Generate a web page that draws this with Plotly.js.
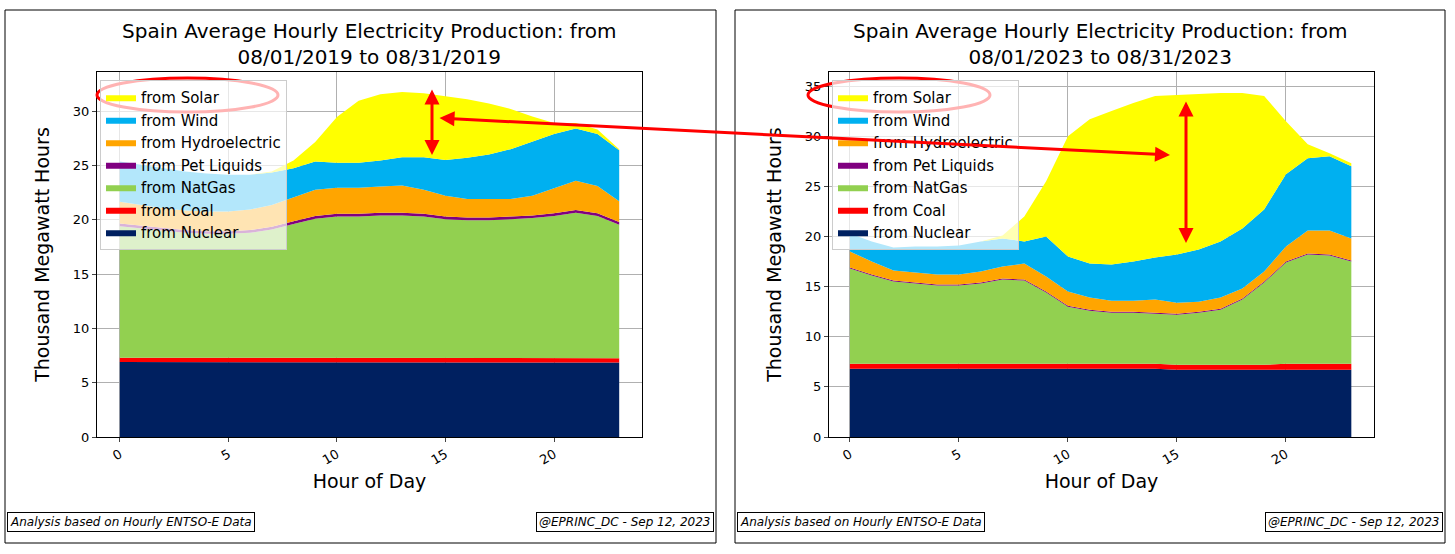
<!DOCTYPE html>
<html><head><meta charset="utf-8">
<script src="https://cdn.plot.ly/plotly-3.0.1.min.js"></script>
<style>body{margin:0;background:#fff}</style>
</head><body>
<div id="chart" style="width:1455px;height:554px"></div>
<script>
const hours = [...Array(24).keys()];
const seriesNames = ['from Nuclear', 'from Coal', 'from NatGas', 'from Pet Liquids', 'from Hydroelectric', 'from Wind', 'from Solar'];
const seriesColors = ['#002060', '#ff0000', '#92d050', '#800080', '#ffa500', '#00b0f0', '#ffff00'];

// 2019 values, thousand MWh
const nuclear2019 = [6.9,6.9,6.9,6.9,6.9,6.9,6.9,6.9,6.9,6.9,6.9,6.9,6.9,6.9,6.9,6.85,6.85,6.85,6.85,6.85,6.85,6.85,6.85,6.85];
const coal2019 = [0.4,0.4,0.4,0.4,0.4,0.4,0.4,0.4,0.4,0.4,0.4,0.4,0.4,0.4,0.4,0.4,0.4,0.4,0.4,0.4,0.4,0.4,0.4,0.4];
const natgas2019 = [12.1,11.9,11.7,11.5,11.4,11.4,11.5,11.8,12.3,12.8,13.0,13.0,13.1,13.1,13.0,12.8,12.7,12.7,12.8,12.9,13.1,13.4,13.1,12.3];
const petliq2019 = [0.25,0.25,0.25,0.25,0.25,0.25,0.25,0.25,0.25,0.25,0.25,0.25,0.25,0.25,0.25,0.25,0.25,0.25,0.25,0.25,0.25,0.25,0.25,0.25];
const hydro2019 = [2.0,1.9,1.8,1.8,1.8,1.8,1.9,2.0,2.2,2.4,2.4,2.4,2.4,2.5,2.2,1.9,1.7,1.7,1.6,1.8,2.3,2.7,2.5,1.9];
const wind2019 = [3.7,3.7,3.7,3.6,3.5,3.4,3.2,3.0,2.7,2.6,2.3,2.3,2.4,2.6,3.0,3.3,3.8,4.1,4.6,5.0,5.0,4.8,4.8,4.7];
const solar2019 = [0,0,0,0,0,0,0,0.1,0.7,1.8,4.2,5.7,6.1,6.0,5.9,5.9,5.4,4.7,3.7,2.3,1.0,0.5,0.4,0.1];

// 2023 values
const nuclear2023 = [6.8,6.8,6.8,6.8,6.8,6.8,6.8,6.8,6.8,6.8,6.8,6.8,6.8,6.8,6.8,6.7,6.7,6.7,6.7,6.7,6.7,6.7,6.7,6.7];
const coal2023 = [0.5,0.5,0.5,0.5,0.5,0.5,0.5,0.5,0.5,0.5,0.5,0.5,0.5,0.5,0.5,0.5,0.5,0.5,0.5,0.5,0.6,0.6,0.6,0.6];
const natgas2023 = [9.5,8.8,8.2,8.0,7.8,7.8,8.0,8.4,8.3,7.1,5.7,5.3,5.1,5.1,5.0,5.0,5.2,5.5,6.5,8.2,10.1,10.9,10.8,10.2];
const petliq2023 = [0.1,0.1,0.1,0.1,0.1,0.1,0.1,0.1,0.1,0.1,0.1,0.1,0.1,0.1,0.1,0.1,0.1,0.1,0.1,0.1,0.1,0.1,0.1,0.1];
const hydro2023 = [1.6,1.3,1.0,1.0,1.0,1.0,1.1,1.2,1.6,1.5,1.4,1.2,1.1,1.1,1.3,1.1,1.0,1.1,1.0,1.0,1.5,2.3,2.4,2.2];
const wind2023 = [1.8,2.0,2.3,2.6,2.8,2.9,3.0,2.8,2.2,4.0,3.5,3.4,3.6,3.9,4.2,4.8,5.2,5.6,6.0,6.2,7.2,7.2,7.4,7.2];
const solar2023 = [0,0,0,0,0,0,0,0.3,2.5,5.5,12.0,14.4,15.3,15.8,16.1,15.9,15.5,14.8,13.5,11.3,5.3,1.4,0.3,0.3];

const data2019 = [nuclear2019, coal2019, natgas2019, petliq2019, hydro2019, wind2019, solar2019];
const data2023 = [nuclear2023, coal2023, natgas2023, petliq2023, hydro2023, wind2023, solar2023];

const traces = [];
function addPanel(vals, ax, legendId) {
  vals.forEach((v, i) => {
    traces.push({
      x: hours, y: v, name: seriesNames[i], type: 'scatter', mode: 'lines',
      stackgroup: 'g' + ax, line: { width: 0, color: seriesColors[i] },
      fillcolor: seriesColors[i], xaxis: 'x' + ax, yaxis: 'y' + ax,
      legend: legendId
    });
  });
}
addPanel(data2019, '', 'legend');
addPanel(data2023, '2', 'legend2');

const axisStyle = {
  showgrid: true, gridcolor: '#b0b0b0', showline: true, linecolor: '#000', linewidth: 1,
  mirror: true, ticks: 'outside', ticklen: 4, zeroline: false, tickfont: { size: 13, color: '#000' }
};
const legendStyle = {
  traceorder: 'reversed', bgcolor: 'rgba(255,255,255,0.7)', bordercolor: '#ccc', borderwidth: 1,
  font: { size: 15, color: '#000' }, xanchor: 'left', yanchor: 'top', tracegroupgap: 0
};
const titleFont = { size: 20, color: '#000' };
const footFont = { size: 12, color: '#000' };

const layout = {
  width: 1455, height: 554, margin: { l: 0, r: 0, t: 0, b: 0 },
  paper_bgcolor: '#fff', plot_bgcolor: '#fff',
  font: { family: 'DejaVu Sans, sans-serif', color: '#000' },
  xaxis: Object.assign({}, axisStyle, { domain: [97/1455, 642/1455], range: [-1.05, 24.05], tickvals: [0,5,10,15,20], tickangle: -30,
    title: { text: 'Hour of Day', font: { size: 19 }, standoff: 8 } }),
  yaxis: Object.assign({}, axisStyle, { domain: [117/554, 482/554], range: [0, 33.6], dtick: 5,
    title: { text: 'Thousand Megawatt Hours', font: { size: 19 } } }),
  xaxis2: Object.assign({}, axisStyle, { domain: [829/1455, 1374/1455], range: [-0.96, 24.04], tickvals: [0,5,10,15,20], tickangle: -30,
    title: { text: 'Hour of Day', font: { size: 19 }, standoff: 8 } }),
  yaxis2: Object.assign({}, axisStyle, { anchor: 'x2', domain: [117/554, 482/554], range: [0, 36.4], dtick: 5,
    title: { text: 'Thousand Megawatt Hours', font: { size: 19 } } }),
  legend: Object.assign({}, legendStyle, { x: 100/1455, y: 1 - 80/554 }),
  legend2: Object.assign({}, legendStyle, { x: 832/1455, y: 1 - 80/554 }),
  shapes: [
    { type: 'rect', xref: 'paper', yref: 'paper', x0: 5/1455, x1: 716/1455, y0: 1 - 543/554, y1: 1 - 10/554, line: { color: '#000', width: 1 } },
    { type: 'rect', xref: 'paper', yref: 'paper', x0: 735/1455, x1: 1445/1455, y0: 1 - 543/554, y1: 1 - 10/554, line: { color: '#000', width: 1 } },
    { type: 'circle', xref: 'paper', yref: 'paper', x0: 97/1455, x1: 278/1455, y0: 1 - 112/554, y1: 1 - 78/554, line: { color: '#ff0000', width: 3 } },
    { type: 'circle', xref: 'paper', yref: 'paper', x0: 808/1455, x1: 990/1455, y0: 1 - 112/554, y1: 1 - 78/554, line: { color: '#ff0000', width: 3 } }
  ],
  annotations: [
    { xref: 'paper', yref: 'paper', x: 369/1455, y: 1 - 44/554, xanchor: 'center', yanchor: 'middle', showarrow: false, align: 'center',
      text: 'Spain Average Hourly Electricity Production: from<br>08/01/2019 to 08/31/2019', font: titleFont },
    { xref: 'paper', yref: 'paper', x: 1100/1455, y: 1 - 44/554, xanchor: 'center', yanchor: 'middle', showarrow: false, align: 'center',
      text: 'Spain Average Hourly Electricity Production: from<br>08/01/2023 to 08/31/2023', font: titleFont },
    { xref: 'paper', yref: 'paper', x: 7/1455, y: 1 - 532/554, xanchor: 'left', showarrow: false,
      text: '<i>Analysis based on Hourly ENTSO-E Data</i>', font: footFont, bordercolor: '#000', borderwidth: 1, borderpad: 2, bgcolor: '#fff' },
    { xref: 'paper', yref: 'paper', x: 714/1455, y: 1 - 532/554, xanchor: 'right', showarrow: false,
      text: '<i>@EPRINC_DC - Sep 12, 2023</i>', font: footFont, bordercolor: '#000', borderwidth: 1, borderpad: 2, bgcolor: '#fff' },
    { xref: 'paper', yref: 'paper', x: 737/1455, y: 1 - 532/554, xanchor: 'left', showarrow: false,
      text: '<i>Analysis based on Hourly ENTSO-E Data</i>', font: footFont, bordercolor: '#000', borderwidth: 1, borderpad: 2, bgcolor: '#fff' },
    { xref: 'paper', yref: 'paper', x: 1443/1455, y: 1 - 532/554, xanchor: 'right', showarrow: false,
      text: '<i>@EPRINC_DC - Sep 12, 2023</i>', font: footFont, bordercolor: '#000', borderwidth: 1, borderpad: 2, bgcolor: '#fff' },
    // arrows
    { xref: 'paper', yref: 'paper', x: 432/1455, y: 1 - 155/554, ax: 0, ay: -67, text: '', showarrow: true,
      arrowhead: 2, arrowside: 'end+start', arrowsize: 1, arrowwidth: 3, arrowcolor: '#ff0000' },
    { xref: 'paper', yref: 'paper', x: 1186/1455, y: 1 - 243/554, ax: 0, ay: -143, text: '', showarrow: true,
      arrowhead: 2, arrowside: 'end+start', arrowsize: 1, arrowwidth: 3, arrowcolor: '#ff0000' },
    { xref: 'paper', yref: 'paper', x: 1170/1455, y: 1 - 155/554, ax: -732, ay: -37, text: '', showarrow: true,
      arrowhead: 2, arrowside: 'end+start', arrowsize: 1, arrowwidth: 3, arrowcolor: '#ff0000' }
  ]
};

Plotly.newPlot('chart', traces, layout, { displayModeBar: false, staticPlot: true });
</script>
</body></html>
